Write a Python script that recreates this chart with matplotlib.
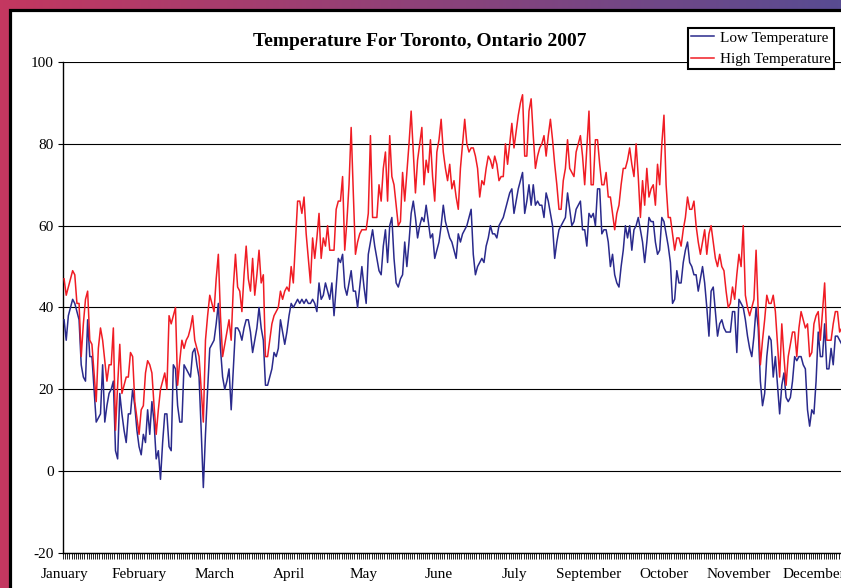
import numpy as np
import matplotlib
matplotlib.use('Agg')
import matplotlib.pyplot as plt
from matplotlib.patches import Rectangle
from matplotlib.lines import Line2D

# ---------------- data (daily, 2007) ----------------
high = [
    47, 43, 45, 47, 49, 48, 41, 41, 28, 36,
    42, 44, 32, 31, 24, 17, 30, 35, 32, 27,
    22, 26, 26, 35, 10, 21, 31, 19, 21, 23,
    23, 29, 28, 17, 13, 9, 15, 16, 24, 27,
    26, 24, 16, 9, 15, 20, 22, 24, 20, 38,
    36, 38, 40, 21, 27, 32, 30, 32, 33, 35,
    38, 32, 30, 28, 20, 12, 32, 38, 43, 41,
    39, 47, 53, 38, 28, 31, 34, 37, 32, 45,
    53, 45, 44, 39, 48, 55, 47, 44, 52, 43,
    48, 54, 46, 48, 28, 28, 32, 36, 38, 39,
    40, 44, 42, 44, 45, 44, 50, 46, 56, 66,
    66, 63, 67, 58, 52, 46, 57, 52, 57, 63,
    52, 57, 55, 60, 54, 54, 54, 64, 66, 66,
    72, 54, 61, 70, 84, 68, 53, 56, 58, 59,
    59, 59, 63, 82, 62, 62, 62, 70, 66, 74,
    78, 66, 82, 72, 70, 65, 60, 61, 73, 66,
    73, 80, 88, 78, 68, 76, 80, 84, 70, 76,
    73, 81, 72, 66, 78, 81, 86, 78, 74, 71,
    75, 69, 71, 67, 64, 74, 80, 86, 80, 78,
    79, 79, 77, 74, 67, 71, 70, 74, 77, 76,
    74, 77, 75, 71, 72, 72, 80, 75, 80, 85,
    79, 83, 87, 90, 92, 77, 77, 88, 91, 82,
    74, 77, 79, 80, 82, 77, 82, 86, 81, 75,
    70, 64, 64, 71, 74, 81, 74, 73, 72, 78,
    80, 82, 77, 70, 79, 88, 70, 70, 81, 81,
    75, 70, 70, 73, 67, 67, 63, 59, 63, 65,
    70, 74, 74, 76, 79, 75, 72, 80, 72, 62,
    71, 65, 74, 67, 69, 70, 65, 75, 70, 80,
    87, 70, 62, 62, 58, 54, 57, 57, 55, 59,
    62, 67, 64, 64, 66, 60, 56, 53, 56, 59,
    53, 58, 60, 56, 52, 50, 53, 50, 49, 44,
    40, 41, 45, 42, 48, 53, 50, 60, 43, 40,
    38, 40, 42, 54, 39, 26, 32, 37, 43, 41,
    41, 43, 39, 31, 23, 36, 28, 21, 28, 31,
    34, 34, 28, 35, 39, 37, 35, 36, 28, 29,
    36, 38, 39, 32, 39, 46, 32, 32, 32, 36,
    39, 39, 34, 35, 34,
]
low = [
    37, 32, 38, 40, 42, 41, 39, 37, 26, 23,
    22, 37, 28, 28, 20, 12, 13, 14, 26, 12,
    16, 19, 20, 22, 5, 3, 19, 14, 10, 7,
    14, 14, 20, 16, 10, 6, 4, 9, 7, 15,
    9, 17, 12, 3, 5, -2, 7, 14, 14, 6,
    5, 26, 25, 16, 12, 12, 26, 25, 24, 23,
    29, 30, 26, 23, 10, -4, 9, 20, 30, 31,
    32, 36, 41, 30, 23, 20, 22, 25, 15, 25,
    35, 35, 34, 32, 35, 37, 37, 34, 29, 32,
    35, 40, 35, 32, 21, 21, 23, 25, 29, 28,
    30, 37, 34, 31, 34, 38, 41, 40, 41, 42,
    41, 42, 41, 42, 41, 41, 42, 41, 39, 46,
    42, 43, 46, 44, 42, 46, 38, 45, 52, 51,
    53, 45, 43, 46, 49, 44, 44, 40, 45, 50,
    45, 41, 53, 56, 59, 55, 52, 49, 48, 55,
    59, 51, 60, 62, 52, 46, 45, 47, 48, 56,
    50, 56, 63, 66, 62, 57, 60, 62, 61, 65,
    61, 57, 58, 52, 54, 56, 60, 65, 61, 59,
    57, 56, 54, 52, 58, 56, 58, 59, 60, 62,
    64, 53, 48, 50, 51, 52, 51, 55, 57, 60,
    58, 58, 57, 60, 61, 62, 64, 66, 68, 69,
    63, 66, 69, 71, 73, 63, 66, 70, 65, 70,
    65, 66, 65, 65, 62, 68, 66, 63, 60, 52,
    56, 59, 60, 61, 62, 68, 64, 60, 61, 64,
    65, 66, 59, 59, 55, 63, 62, 63, 60, 69,
    69, 58, 59, 59, 56, 50, 53, 48, 46, 45,
    50, 54, 60, 57, 60, 54, 59, 60, 62, 59,
    56, 51, 56, 62, 61, 61, 56, 53, 54, 62,
    61, 58, 55, 51, 41, 42, 49, 46, 46, 51,
    54, 56, 51, 50, 48, 48, 44, 47, 50, 46,
    40, 33, 44, 45, 39, 33, 36, 37, 35, 34,
    34, 34, 39, 39, 29, 42, 41, 40, 37, 33,
    30, 28, 33, 40, 35, 22, 16, 19, 28, 33,
    32, 23, 28, 21, 14, 21, 24, 18, 17, 18,
    22, 28, 27, 28, 28, 26, 25, 15, 11, 15,
    14, 22, 34, 28, 28, 36, 25, 25, 30, 26,
    33, 33, 32, 31, 32,
]
month_labels = ['January', 'February', 'March', 'April', 'May', 'June',
                'July', 'September', 'October', 'November', 'December']
label_step = 35
y_ticks = [-20, 0, 20, 40, 60, 80, 100]
series_names = ['Low Temperature', 'High Temperature']
title = 'Temperature For Toronto, Ontario 2007'

# ---------------- figure ----------------
W, H = 841, 588
plt.rcParams['font.family'] = ['Liberation Serif', 'DejaVu Serif']
fig = plt.figure(figsize=(W / 100, H / 100), dpi=100)

# gradient frame background
bg = fig.add_axes([0, 0, 1, 1], zorder=-3)
c0 = np.array([196, 55, 96]) / 255
c1 = np.array([88, 76, 146]) / 255
t = np.linspace(0, 1, 256)
grad = (c0[None, :] * (1 - t[:, None]) + c1[None, :] * t[:, None])[None, :, :]
bg.imshow(grad, aspect='auto', extent=[0, 1, 0, 1])
bg.axis('off')

fig.add_artist(Rectangle((9.5 / W, -0.1), 2, 1.1 - 9.5 / H,
                         transform=fig.transFigure, facecolor='white',
                         edgecolor='black', lw=2.3, zorder=-2))

ax = fig.add_axes([63 / W, 1 - 553 / H, (845 - 63) / W, (553 - 62) / H])
ax.set_facecolor('none')
days = np.arange(len(high))
c_low = '#2a2a8c'
c_high = '#f01c24'
ax.plot(np.arange(len(low)), low, color=c_low, lw=1.1, zorder=3)
ax.plot(days, high, color=c_high, lw=1.1, zorder=3)

ax.set_xlim(-0.5, len(high) - 0.5)
ax.set_ylim(-20, 100)
ax.set_yticks(y_ticks)
ax.set_yticklabels([str(v) for v in y_ticks])
ax.yaxis.grid(True, color='black', lw=0.8)
ax.set_axisbelow(True)
for s in ['top', 'right']:
    ax.spines[s].set_visible(False)
ax.spines['left'].set_linewidth(1.0)
ax.spines['bottom'].set_linewidth(1.0)

ax.set_xticks([k * label_step for k in range(len(month_labels))])
ax.set_xticklabels(month_labels)
ax.set_xticks(np.arange(-0.5, len(high), 1), minor=True)
ax.tick_params(axis='x', which='major', length=0, pad=11, labelsize=11)
ax.tick_params(axis='x', which='minor', length=4, width=0.6, direction='out')
ax.tick_params(axis='y', length=3.6, width=0.8, pad=3, labelsize=11)

fig.text(420 / W, 1 - 41 / H, title, ha='center', va='center',
         fontsize=14, fontweight='bold')

handles = [Line2D([], [], color=c_low, lw=1.1), Line2D([], [], color=c_high, lw=1.1)]
leg = fig.legend(handles, series_names, loc='upper left',
                 bbox_to_anchor=(688 / W, 1 - 28 / H), frameon=True,
                 fancybox=False, edgecolor='black', framealpha=1, fontsize=11,
                 handlelength=1.5, handletextpad=0.4, borderpad=0.2,
                 labelspacing=0.5, borderaxespad=0)
leg.get_frame().set_linewidth(1.5)
leg.set_zorder(10)

fig.savefig('out.png', dpi=100)
